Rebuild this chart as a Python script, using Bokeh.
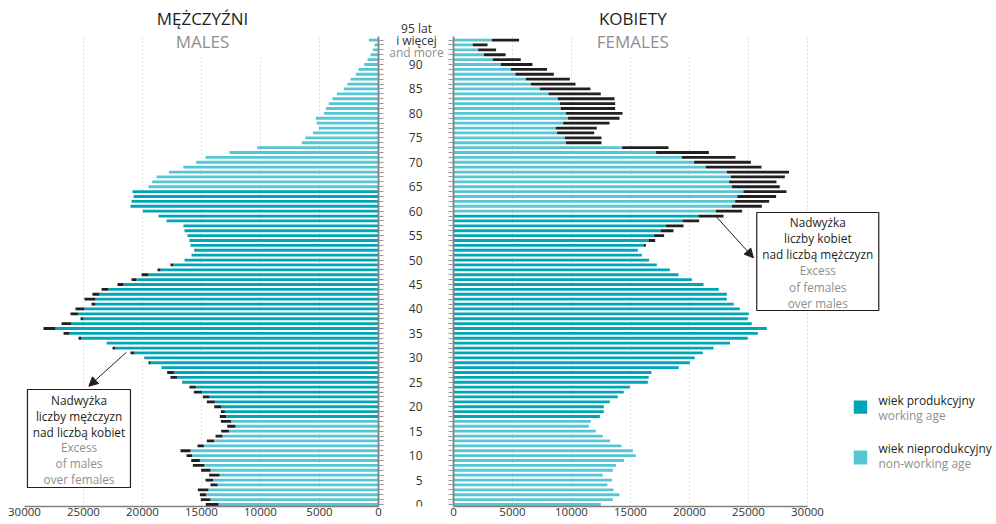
from bokeh.plotting import figure
from bokeh.models import (Range1d, FixedTicker, Label, BoxAnnotation, Arrow, NormalHead,
                          ColumnDataSource)
from bokeh.core.properties import value
from bokeh.layouts import row
from bokeh.embed import file_html
from bokeh.resources import INLINE

# ---------------- data ----------------
ages = list(range(96))  # 95 = "95 lat i więcej"
age_ticks = list(range(0, 91, 5))
value_ticks = [0, 5000, 10000, 15000, 20000, 25000, 30000]

male_total = [14640, 15060, 15140, 15310, 14240, 14660, 14350, 15030, 15730, 15870,
              16270, 16780, 15340, 14550, 13810, 13330, 12820, 13360, 13450, 13360,
              13920, 14550, 14890, 15650, 16020, 16610, 17630, 17910, 18390, 19490,
              19830, 21020, 22540, 23050, 25420, 26690, 28390, 26860, 25250, 26100,
              25680, 24320, 24920, 24240, 23470, 22120, 20930, 20080, 18730, 17630,
              16440, 15850, 15590, 15930, 16020, 16190, 16440, 16530, 17970, 18640,
              19970, 21020, 20930, 20760, 20850, 19490, 19180, 18810, 17770, 16550,
              15450, 14660, 12630, 10280, 6500, 6190, 5560, 5060, 5250, 5310,
              4630, 4460, 4210, 3900, 3530, 2940, 2630, 2370, 1920, 1690,
              1210, 930, 680, 480, 340, 820]
male_excess = [1080, 820, 540, 900, 600, 650, 880, 790, 980, 730,
               480, 850, 540, 630, 590, 650, 700, 870, 540, 340,
               610, 680, 570, 680, 540, 80, 570, 570, 0, 170,
               80, 340, 250, 0, 250, 500, 1020, 840, 250, 630,
               760, 340, 940, 600, 590, 510, 420, 590, 260, 260,
               0, 0, 80, 0, 0, 0, 0, 0, 0, 0,
               0, 0, 0, 0, 0, 0, 0, 0, 0, 0,
               0, 0, 0, 0, 0, 0, 0, 0, 0, 0,
               0, 0, 0, 0, 0, 0, 0, 0, 0, 0,
               0, 0, 0, 0, 0, 0]
female_total = [12480, 13500, 14070, 13560, 13050, 13420, 12650, 13500, 13780, 14460,
                15450, 15200, 14240, 13270, 12650, 12060, 11470, 11640, 12400, 12740,
                12740, 13240, 13920, 14430, 14940, 16470, 16550, 16780, 19090, 20030,
                20450, 21130, 22030, 23410, 24940, 25790, 26550, 25280, 24940, 25030,
                24260, 23750, 23160, 23160, 22480, 21190, 20200, 19070, 18330, 17230,
                16580, 15960, 15620, 16300, 17090, 17850, 18640, 19490, 20820, 22880,
                24460, 26130, 26750, 27340, 28220, 27650, 27370, 28080, 28440, 26100,
                25200, 23900, 21640, 18220, 12540, 12540, 11920, 12140, 13220, 14070,
                14320, 13700, 13700, 13640, 12480, 11610, 10340, 9860, 8500, 7930,
                6690, 5700, 4410, 3610, 2880, 5560]
female_excess = [0, 0, 0, 0, 0, 0, 0, 0, 0, 0,
                 0, 0, 0, 0, 0, 0, 0, 0, 0, 0,
                 0, 0, 0, 0, 0, 0, 0, 0, 0, 0,
                 0, 0, 0, 50, 0, 0, 0, 0, 0, 0,
                 0, 0, 0, 0, 0, 0, 0, 0, 0, 0,
                 0, 0, 0, 200, 560, 850, 1070, 1500, 1410, 2120,
                 2230, 2540, 2880, 3280, 3650, 4060, 4010, 4580, 5280, 4720,
                 4810, 4550, 4470, 3930, 3000, 3110, 3140, 3470, 3930, 4360,
                 4780, 4610, 4690, 4800, 4430, 4300, 3790, 3730, 3250, 3070,
                 2680, 2370, 1840, 1520, 1240, 2310]
male_working_ages = (18, 64)
female_working_ages = (18, 59)
legend_labels = [("wiek produkcyjny", "working age"),
                 ("wiek nieprodukcyjny", "non-working age")]

# ---------------- style ----------------
TEAL = "#00a6b6"
LIGHT = "#56c6d4"
DARK = "#231f20"
GREY = "#8f8f8f"
AXIS = "#808080"
FONT = "Open Sans"
BAR_H = 0.58
H = 524
TOP = 103.09          # age value at the very top of the frames
BOTTOM = -0.41        # age value at the x-axis line
AGE_TOP = 95.72       # top end of the centre age axes


def sources(total, excess, working):
    lo, hi = working
    work = dict(age=[], base=[])
    non = dict(age=[], base=[])
    exc = dict(age=[], base=[], total=[])
    for a, t, e in zip(ages, total, excess):
        b = t - e
        d = work if lo <= a <= hi else non
        d["age"].append(a)
        d["base"].append(b)
        if e > 0:
            exc["age"].append(a)
            exc["base"].append(b)
            exc["total"].append(t)
    return ColumnDataSource(work), ColumnDataSource(non), ColumnDataSource(exc)


y_range = Range1d(BOTTOM, TOP)


def base_fig(width, x_range, yloc, bl, br):
    p = figure(width=width, height=H, x_range=x_range, y_range=y_range,
               output_backend="svg", toolbar_location=None, y_axis_location=yloc,
               min_border_left=bl, min_border_right=br, min_border_top=0,
               min_border_bottom=18)
    p.outline_line_color = None
    p.ygrid.visible = False
    p.xaxis.ticker = FixedTicker(ticks=value_ticks)
    p.xaxis.bounds = (0, 30000)
    p.xgrid.grid_line_color = "#c4c4c4"
    p.xgrid.grid_line_dash = "1 3"
    p.xgrid.grid_line_width = 1
    p.xaxis.major_tick_line_color = None
    p.xaxis.minor_tick_line_color = None
    p.xaxis.major_tick_out = 0
    p.xaxis.major_tick_in = 0
    p.xaxis.axis_line_color = AXIS
    p.xaxis.axis_line_width = 1.3
    p.xaxis.major_label_text_font = FONT
    p.xaxis.major_label_text_font_size = "11.5px"
    p.xaxis.major_label_text_color = "#333333"
    p.xaxis.major_label_standoff = 1
    p.yaxis.ticker = FixedTicker(ticks=ages)
    p.yaxis.bounds = (BOTTOM, AGE_TOP)
    p.yaxis.major_label_overrides = {a: "" for a in ages}
    p.yaxis.major_label_standoff = 0
    p.yaxis.axis_line_color = AXIS
    p.yaxis.axis_line_width = 1.8
    p.yaxis.major_tick_line_color = "#9a9a9a"
    p.yaxis.minor_tick_line_color = None
    p.yaxis.major_tick_in = 0
    p.yaxis.major_tick_out = 5
    return p


def draw_bars(p, work, non, exc):
    p.hbar(y="age", left=0, right="base", height=BAR_H, source=work,
           fill_color=TEAL, line_color=None)
    p.hbar(y="age", left=0, right="base", height=BAR_H, source=non,
           fill_color=LIGHT, line_color=None)
    p.hbar(y="age", left="base", right="total", height=BAR_H, source=exc,
           fill_color=DARK, line_color=None)


def box(p, x0, x1, y0, y1, fill="white", line=None, lw=1.2):
    p.add_layout(BoxAnnotation(left=x0, right=x1, bottom=y0, top=y1, fill_color=fill,
                               fill_alpha=1, line_color=line,
                               line_alpha=1 if line else 0, line_width=lw))


def label(p, x, y, text, color=DARK, size="11px", align="center", baseline="middle"):
    p.add_layout(Label(x=x, y=y, text=text, text_color=color, text_font=FONT,
                       text_font_size=size, text_align=align, text_baseline=baseline))


# ---------------- males (left) ----------------
left = base_fig(384, Range1d(30000, 0), "right", 24, 6)
mw, mn, me = sources(male_total, male_excess, male_working_ages)
draw_bars(left, mw, mn, me)

box(left, 30500, -1000, AGE_TOP, TOP)
box(left, 19300, 6600, 91.43, TOP)
label(left, 14915, 99.4, "MĘŻCZYŹNI", size="17px")
label(left, 14915, 94.7, "MALES", color=GREY, size="17px")

box(left, 29750, 21020, 3.48, 23.52, line=DARK)
for i, (t, c) in enumerate([("Nadwyżka", DARK), ("liczby mężczyzn", DARK),
                            ("nad liczbą kobiet", DARK), ("Excess", GREY),
                            ("of males", GREY), ("over females", GREY)]):
    label(left, 25380, 21.43 - i * 3.25, t, color=c, size="11.8px")
left.add_layout(Arrow(end=NormalHead(size=9, fill_color=DARK, line_color=DARK),
                      x_start=21360, y_start=31.15, x_end=24550, y_end=24.2,
                      line_color=DARK, line_width=1))

# ---------------- age labels (centre) ----------------
mid = figure(width=63, height=H, x_range=Range1d(0, 63), y_range=y_range,
             output_backend="svg", toolbar_location=None,
             x_axis_location=None, y_axis_location=None,
             min_border_left=0, min_border_right=0, min_border_top=0,
             min_border_bottom=18)
mid.outline_line_color = None
mid.grid.visible = False
mid_src = ColumnDataSource(dict(age=age_ticks, txt=[str(a) for a in age_ticks]))
mid.text(x=38, y="age", text="txt", source=mid_src, text_align="right",
         text_baseline="middle", text_font=value(FONT), text_font_size="12px",
         text_color="#333333")
top_src = ColumnDataSource(dict(age=[95 + 2.46, 95, 95 - 2.45],
                                txt=["95 lat", "i więcej", "and more"],
                                col=["#333333", "#333333", GREY]))
mid.text(x=32, y="age", text="txt", source=top_src, text_align="center",
         text_baseline="middle", text_font=value(FONT), text_font_size="12px",
         text_color="col")

# ---------------- females (right) ----------------
right = base_fig(549, Range1d(0, 46017), "left", 6, 0)
fw, fn, fe = sources(female_total, female_excess, female_working_ages)
draw_bars(right, fw, fn, fe)

box(right, -1000, 47000, AGE_TOP, TOP)
box(right, 10790, 24350, 91.43, TOP)
label(right, 15195, 99.4, "KOBIETY", size="17px")
label(right, 15195, 94.7, "FEMALES", color=GREY, size="17px")

box(right, 25700, 36040, 39.68, 59.73, line=DARK)
for i, (t, c) in enumerate([("Nadwyżka", DARK), ("liczby kobiet", DARK),
                            ("nad liczbą mężczyzn", DARK), ("Excess", GREY),
                            ("of females", GREY), ("over males", GREY)]):
    label(right, 30870, 57.8 - i * 3.31, t, color=c, size="11.8px")
right.add_layout(Arrow(end=NormalHead(size=9, fill_color=DARK, line_color=DARK),
                       x_start=22230, y_start=58.97, x_end=25420, y_end=50.46,
                       line_color=DARK, line_width=1))

# legend: swatches + two-line labels
for (pl, en), colr, (y0, y1), (yd, yg) in zip(legend_labels, [TEAL, LIGHT],
                                             [(18.55, 21.27), (8.18, 11.05)],
                                             [(21.42, 18.35), (11.6, 8.45)]):
    box(right, 33920, 35060, y0, y1, fill=colr)
    label(right, 36020, yd, pl, color=DARK, size="11.9px", align="left")
    label(right, 36020, yg, en, color=GREY, size="11.9px", align="left")

page = row(left, mid, right)
open("out.html", "w").write(file_html(page, INLINE))
